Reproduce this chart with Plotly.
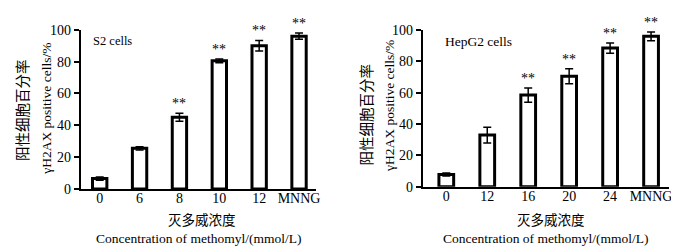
import plotly.graph_objects as go

# Left panel: S2 cells
s2_categories = ["0", "6", "8", "10", "12", "MNNG"]
s2_values = [6.5, 25.5, 45, 80.5, 90, 96]
s2_errors = [1, 1, 2.5, 1.2, 3.3, 2]
s2_stars = ["", "", "**", "**", "**", "**"]

# Right panel: HepG2 cells
hep_categories = ["0", "12", "16", "20", "24", "MNNG"]
hep_values = [7.8, 33, 58.5, 70.5, 88.5, 96]
hep_errors = [1, 5, 4.5, 4.8, 3.3, 2.8]
hep_stars = ["", "", "**", "**", "**", "**"]

y_ticks = [0, 20, 40, 60, 80, 100]

FONT = "Liberation Serif, Times New Roman, Noto Sans CJK SC, serif"
W, H = 679, 251

fig = go.Figure()

bar_style = dict(
    marker=dict(color="white", line=dict(color="black", width=3)),
    width=0.36,
    showlegend=False,
    cliponaxis=False,
)

fig.add_trace(go.Bar(
    x=s2_categories, y=s2_values,
    error_y=dict(type="data", array=s2_errors, color="black", thickness=1.5, width=4),
    xaxis="x", yaxis="y", **bar_style))
fig.add_trace(go.Bar(
    x=hep_categories, y=hep_values,
    error_y=dict(type="data", array=hep_errors, color="black", thickness=1.5, width=4),
    xaxis="x2", yaxis="y2", **bar_style))

def px_x(p):
    return p / W

def px_y(p):
    return 1 - p / H

xaxis_common = dict(
    type="category", showline=True, linecolor="black", linewidth=1.5,
    ticks="", showgrid=False, zeroline=False, ticklabelstandoff=-4,
    tickfont=dict(family=FONT, size=14, color="black"),
)
yaxis_common = dict(
    range=[0, 100], tickvals=y_ticks, showline=True, linecolor="black", linewidth=1.5,
    ticks="outside", ticklen=5, tickwidth=1.5, tickcolor="black",
    showgrid=False, zeroline=False,
    tickfont=dict(family=FONT, size=14, color="black"),
)

annotations = []
for cats, vals, errs, stars, xr, yr in [
    (s2_categories, s2_values, s2_errors, s2_stars, "x", "y"),
    (hep_categories, hep_values, hep_errors, hep_stars, "x2", "y2"),
]:
    for i, (v, e, s) in enumerate(zip(vals, errs, stars)):
        if s:
            annotations.append(dict(
                x=i, y=v + e, xref=xr, yref=yr, text=s, showarrow=False,
                yanchor="bottom", xanchor="center", yshift=0,
                font=dict(family=FONT, size=14, color="black")))

def txt(x, y, text, size=13, angle=0, xanchor="center", yanchor="middle"):
    annotations.append(dict(
        x=px_x(x), y=px_y(y), xref="paper", yref="paper", text=text,
        showarrow=False, textangle=angle, xanchor=xanchor, yanchor=yanchor,
        font=dict(family=FONT, size=size, color="black")))

# Panel labels
txt(83, 28, "S2 cells", size=12.5, xanchor="left")
txt(438, 28, "HepG2 cells", size=13.5, xanchor="left")

# Y-axis titles
txt(15, 101, "阳性细胞百分率", size=14.5, angle=-90)
txt(38, 100, "γH2AX positive cells/%", size=13.5, angle=-90)
txt(361, 106, "阳性细胞百分率", size=14.5, angle=-90)
txt(383, 97, "γH2AX positive cells/%", size=13.5, angle=-90)

# X-axis titles
txt(195, 218, "灭多威浓度", size=13.5)
txt(192, 238, "Concentration of methomyl/(mmol/L)", size=13.5)
txt(546, 218, "灭多威浓度", size=13.5)
txt(541, 238, "Concentration of methomyl/(mmol/L)", size=13.5)

fig.update_layout(
    width=W, height=H,
    margin=dict(l=0, r=0, t=0, b=0),
    paper_bgcolor="white", plot_bgcolor="white",
    xaxis=dict(domain=[px_x(73), px_x(310)], range=[-0.48, 5.43], anchor="y", **xaxis_common),
    yaxis=dict(domain=[px_y(185), px_y(15.7)], anchor="x", **yaxis_common),
    xaxis2=dict(domain=[px_x(417), px_x(665)], range=[-0.58, 5.44], anchor="y2", **xaxis_common),
    yaxis2=dict(domain=[px_y(182.7), px_y(16)], anchor="x2", **yaxis_common),
    annotations=annotations,
)

fig.write_html("out.html")
